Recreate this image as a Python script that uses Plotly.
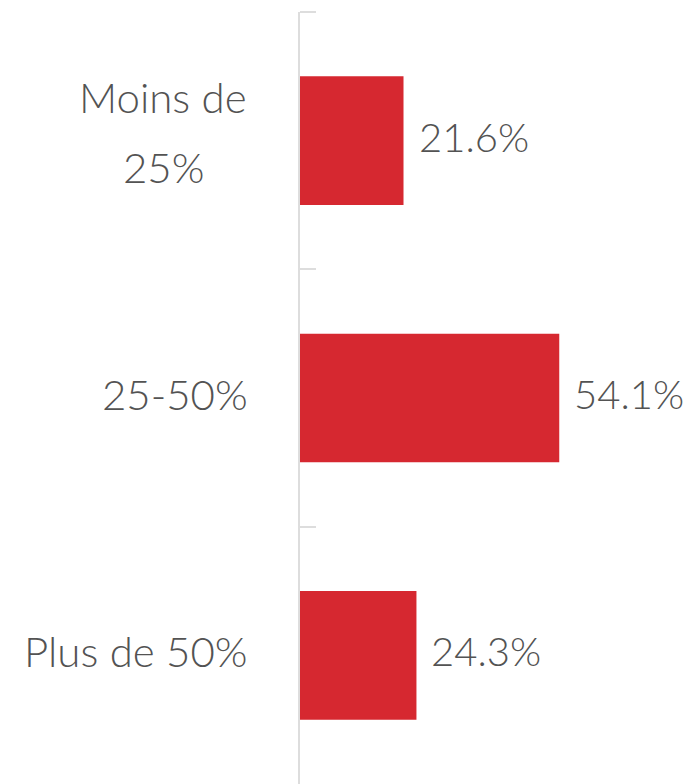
import plotly.graph_objects as go

categories = ["Moins de 25%", "25-50%", "Plus de 50%"]
category_lines = [["Moins de", "25%"], ["25-50%"], ["Plus de 50%"]]
values = [21.6, 54.1, 24.3]
value_labels = ["21.6%", "54.1%", "24.3%"]

BAR_COLOR = "#d62830"
TEXT_COLOR = "#535353"
AXIS_COLOR = "#dddddd"
FONT = "Lato"

fig = go.Figure(
    go.Bar(
        x=values,
        y=categories,
        orientation="h",
        marker=dict(color=BAR_COLOR, line=dict(width=0)),
        hoverinfo="skip",
    )
)

annotations = []
for cat, v, lab in zip(categories, values, value_labels):
    annotations.append(dict(
        x=v, y=cat, xref="x", yref="y", text=lab, showarrow=False,
        xanchor="left", yanchor="middle", xshift=13, yshift=4,
        font=dict(family=FONT, size=40, color=TEXT_COLOR, weight=300),
    ))
for cat, lines in zip(categories, category_lines):
    n = len(lines)
    shifts = [4] if n == 1 else [44, -26]
    for line, ys in zip(lines, shifts):
        annotations.append(dict(
            x=0, y=cat, xref="paper", yref="y", text=line, showarrow=False,
            xanchor="center" if n > 1 else "right", yanchor="middle",
            xshift=-(300 - 163) if n > 1 else -50,
            yshift=ys,
            font=dict(family=FONT, size=42, color=TEXT_COLOR, weight=300),
        ))

fig.update_layout(
    width=684, height=784,
    margin=dict(l=292, r=0, t=4, b=8),
    paper_bgcolor="white", plot_bgcolor="white",
    bargap=0.5,
    showlegend=False,
    annotations=annotations,
    font=dict(family=FONT, color=TEXT_COLOR),
    shapes=[dict(
        type="line", xref="paper", xsizemode="pixel", xanchor=0, x0=0, x1=16,
        yref="paper", y0=1, y1=1, line=dict(color=AXIS_COLOR, width=2),
    )],
)
fig.update_xaxes(range=[0, 81.8], visible=False, fixedrange=True)
fig.update_yaxes(
    range=[2.5, -0.5], showticklabels=False, showgrid=False, zeroline=False,
    showline=True, linecolor=AXIS_COLOR, linewidth=2,
    ticks="inside", tickson="boundaries", ticklen=16, tickcolor=AXIS_COLOR, tickwidth=2,
    fixedrange=True,
)

fig.write_html("out.html", config={"displayModeBar": False})
